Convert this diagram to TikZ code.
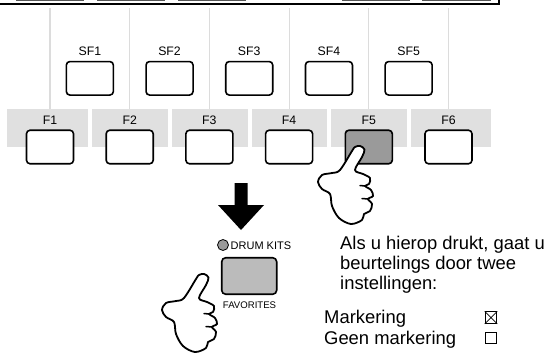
\documentclass[tikz,border=0pt]{standalone}
\usepackage{fontspec}
\setmainfont{Liberation Sans}
\definecolor{bandgray}{HTML}{E0E0E0}
\definecolor{guidegray}{HTML}{DCDCDC}
\definecolor{pressgray}{HTML}{9A9A9A}
\definecolor{favgray}{HTML}{BBBBBB}
\definecolor{screenedge}{HTML}{555555}
\tikzset{
  key/.style={draw, line width=1.6pt, rounded corners=3.5pt, fill=white,
    minimum width=47pt, minimum height=33.5pt, inner sep=0pt},
  keylabel/.style={font=\fontsize{12.3}{14}\selectfont, inner sep=0pt},
  guide/.style={draw=guidegray, line width=1.2pt},
  bodytext/.style={anchor=base west, inner sep=0pt, font=\fontsize{18.4}{20}\selectfont},
  checkbox/.style={draw, line width=1pt, minimum size=11.5pt, inner sep=0pt},
  pointinghand/.pic={
    \draw[line width=1.8pt, fill=white, line join=round]
      plot[smooth cycle, tension=0.55] coordinates {
        (2,-2) (6.5,1.5) (4,9) (-3,22) (5,26) (12,30) (11,36) (7,38)
        (13,42) (15,48) (10,51) (14,56) (12,63) (6,66) (4,72) (-7,76)
        (-19,70) (-26,58) (-28,46) (-36,41) (-40,34) (-36,27) (-26,25)
        (-18,22) (-6,3) (-3,-1)};
    \draw[line width=1.5pt, line cap=round] (7,38) -- (2,37.5) (10,51) -- (4,50.5);
  }
}
\begin{document}
\begin{tikzpicture}[x=1pt, y=-1pt]
\useasboundingbox (0,0) rectangle (547,356);
\clip (0,0) rectangle (547,356);

% lower edge of the display panel
\foreach \a/\b in {16.7/83.3, 97.7/164.3, 179/245.7, 342.3/409, 422.7/490}
  \draw[draw=screenedge, line width=1.2pt] (\a,-10) rectangle (\b,0.6);
\draw[line width=2pt] (-5,3.7) -- (499,3.7) -- (499,-10);

% grey strips behind the F buttons
\foreach \a/\b in {6.7/87.7, 91.7/168.3, 171.7/247.6, 251.7/327.3, 331/406.7, 410.7/490.7}
  \fill[bandgray] (\a,109.3) rectangle (\b,147.3);

% guide lines from the display down to the strips
\foreach \i/\x in {1/50, 2/129.7, 3/209.4, 4/289.1, 5/368.8, 6/448.5} {
  \coordinate (gtop\i) at (\x,8);
  \coordinate (gbot\i) at (\x,109.3);
  \draw[guide] (gtop\i) -- (gbot\i);
}

% SF buttons
\foreach \i/\x in {1/89.85, 2/169.55, 3/249.25, 4/328.95, 5/408.65} {
  \node[key] (sf\i) at (\x,78.3) {};
  \node[keylabel] (lsf\i) at (\x,51.7) {SF\i};
}

% F buttons
\foreach \i/\x in {1/50, 2/129.7, 3/209.4, 4/289.1, 6/448.5} {
  \node[key] (f\i) at (\x,147) {};
  \node[keylabel] (lf\i) at (\x,120.7) {F\i};
}
\node[key, fill=pressgray] (f5) at (368.8,147) {};
\node[keylabel] (lf5) at (368.8,120.7) {F5};

% hand pressing F5
\pic at (358,148) {pointinghand};

% big arrow
\fill (234.5,183) -- (247.5,183) -- (247.5,205) -- (264,205) -- (241,230)
  -- (218,205) -- (234.5,205) -- cycle;

% DRUM KITS / FAVORITES button
\node[circle, draw, fill=pressgray, line width=0.8pt, minimum size=11pt, inner sep=0pt] (lamp) at (223,245) {};
\node[anchor=west, inner sep=0pt, font=\fontsize{11}{13}\selectfont] (drum) at (230.5,246) {DRUM KITS};
\node[draw, fill=favgray, line width=1.6pt, rounded corners=4pt,
  minimum width=55pt, minimum height=36.5pt, inner sep=0pt] (fav) at (249.2,276) {};
\node[inner sep=0pt, font=\fontsize{9.6}{11}\selectfont] (favlbl) at (249.5,305.5) {FAVORITES};

% hand pressing FAVORITES
\pic at (202,276) {pointinghand};

% explanation
\node[bodytext] (t1) at (340,249.3) {Als u hierop drukt, gaat u};
\node[bodytext] (t2) at (340,269.6) {beurtelings door twee};
\node[bodytext] (t3) at (340,289.9) {instellingen:};
\node[bodytext] (m1) at (324,323.3) {Markering};
\node[bodytext] (m2) at (324,344) {Geen markering};

\node[checkbox] (cb1) at (491,317.6) {};
\draw[line width=0.8pt] (cb1.north west) -- (cb1.south east) (cb1.north east) -- (cb1.south west);
\node[checkbox] (cb2) at (491,338) {};
\end{tikzpicture}
\end{document}
